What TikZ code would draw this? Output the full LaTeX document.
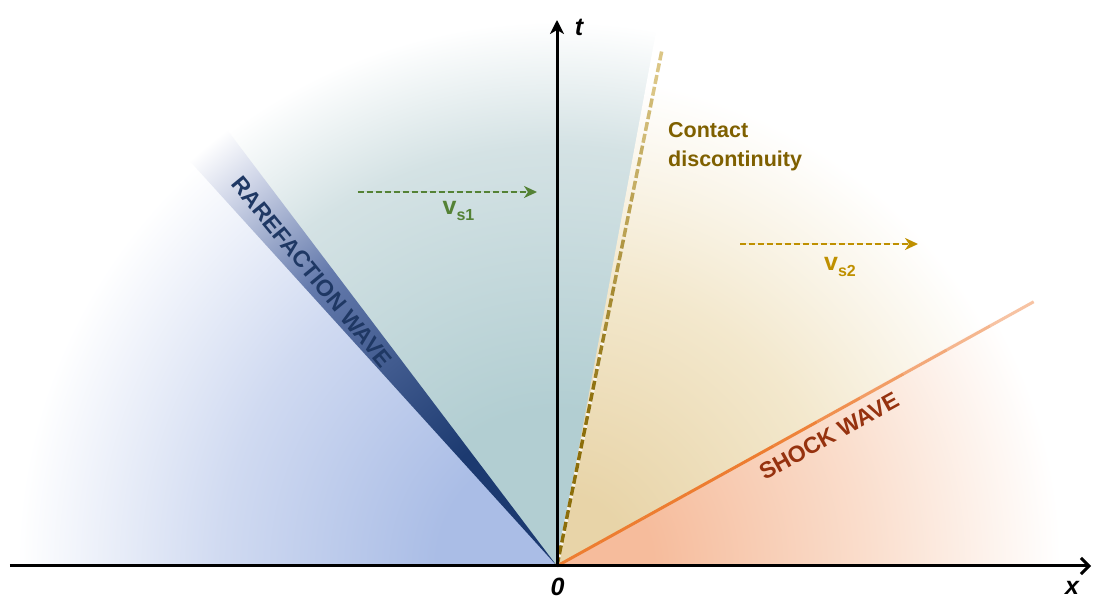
\documentclass[tikz,border=0pt]{standalone}
\usepackage{fontspec}
\setmainfont{Liberation Sans}
\usetikzlibrary{arrows.meta,calc}
\definecolor{cBlue}{RGB}{170,189,230}
\definecolor{cBlueMid}{RGB}{208,218,241}
\definecolor{cTeal}{RGB}{178,206,210}
\definecolor{cTealMid}{RGB}{212,226,228}
\definecolor{cBeige}{RGB}{232,212,168}
\definecolor{cBeigeMid}{RGB}{243,232,205}
\definecolor{cSalmon}{RGB}{246,188,156}
\definecolor{cSalmonMid}{RGB}{250,222,205}
\definecolor{cFan}{RGB}{28,58,112}
\definecolor{cFanMid}{RGB}{100,122,172}
\definecolor{cFanLight}{RGB}{208,214,232}
\definecolor{cContact}{RGB}{140,110,10}
\definecolor{cContactLight}{RGB}{245,228,175}
\definecolor{cShock}{RGB}{237,125,49}
\definecolor{cShockLight}{RGB}{250,215,195}
\definecolor{cRareText}{RGB}{31,56,100}
\definecolor{cShockText}{RGB}{150,50,15}
\definecolor{cContactText}{RGB}{127,96,0}
\definecolor{cGreen}{RGB}{84,130,53}
\definecolor{cGold}{RGB}{191,144,0}
\pgfdeclareradialshading{shBlue}{\pgfpoint{0bp}{0bp}}{color(0bp)=(cBlue); color(5bp)=(cBlue); color(14bp)=(cBlueMid); color(22.5bp)=(white); color(50bp)=(white)}
\pgfdeclareradialshading{shTeal}{\pgfpoint{0bp}{0bp}}{color(0bp)=(cTeal); color(6.5bp)=(cTeal); color(17.5bp)=(cTealMid); color(22.7bp)=(white); color(50bp)=(white)}
\pgfdeclareradialshading{shBeige}{\pgfpoint{0bp}{0bp}}{color(0bp)=(cBeige); color(3bp)=(cBeige); color(12bp)=(cBeigeMid); color(20.5bp)=(white); color(50bp)=(white)}
\pgfdeclareradialshading{shSalmon}{\pgfpoint{0bp}{0bp}}{color(0bp)=(cSalmon); color(4bp)=(cSalmon); color(13bp)=(cSalmonMid); color(21bp)=(white); color(50bp)=(white)}
\pgfdeclareradialshading{shFan}{\pgfpoint{0bp}{0bp}}{color(0bp)=(cFan); color(6bp)=(cFan); color(15.5bp)=(cFanMid); color(20.5bp)=(cFanLight); color(22.8bp)=(white); color(50bp)=(white)}
\begin{document}
\begin{tikzpicture}[x=1pt,y=1pt,
  lbl/.style={font=\bfseries\fontsize{23}{26}\selectfont, inner sep=0pt},
  vlbl/.style={font=\bfseries\fontsize{25}{28}\selectfont, inner sep=0pt},
  axlbl/.style={font=\bfseries\itshape\fontsize{25}{28}\selectfont, inner sep=0pt},
  axisline/.style={line width=3pt, black},
  vel/.style={dash pattern=on 6pt off 3pt, line width=2.2pt, -{Stealth[length=13pt,width=12pt,inset=4pt]}},
  contactline/.style={dash pattern=on 9pt off 3pt, line width=3.5pt, line cap=butt},
  shockline/.style={line width=3pt, line cap=butt},
]
\useasboundingbox (-557,-33) rectangle (537,566);
\coordinate (O) at (0,0);
% regions
\begin{scope}
\clip (O) -- (180:900) -- (155:900) -- (130:900) -- cycle;
\shade[shading=shBlue] (O) circle (600);
\end{scope}
\begin{scope}
\clip (O) -- (78.5:900) -- (103:900) -- (129:900) -- cycle;
\shade[shading=shTeal] (O) circle (600);
\end{scope}
\begin{scope}
\clip (O) -- (29:900) -- (54:900) -- (79.5:900) -- cycle;
\shade[shading=shBeige] (O) circle (600);
\end{scope}
\begin{scope}
\clip (O) -- (0:900) -- (29.3:900) -- cycle;
\shade[shading=shSalmon] (O) circle (600);
\end{scope}
\begin{scope}
\clip (O) -- (127.1:900) -- (132.2:900) -- cycle;
\shade[shading=shFan] (O) circle (600);
\end{scope}
% contact discontinuity
\coordinate (cEnd) at (78.5:528);
\coordinate (cMid) at (78.5:240);
\draw[white, line width=3.5pt, opacity=0.75] (O) -- (cMid);
\foreach \i in {0,...,10}{
  \pgfmathsetmacro{\p}{min(100,100-(48*\i+24-150)/378*80)}
  \draw[contactline, draw=cContact!\p!cContactLight] ($(O)!\i/11!(cEnd)$) -- ($(O)!{(\i+1)/11}!(cEnd)$);
}
% shock wave
\coordinate (sEnd) at (29:545);
\foreach \i in {0,...,10}{
  \pgfmathsetmacro{\p}{min(100,100-(49.5*\i+25-250)/295*85)}
  \draw[shockline, draw=cShock!\p!cShockLight] ($(O)!\i/11!(sEnd)$) -- ($(O)!{(\i+1)/11}!(sEnd)$);
}
% axes
\coordinate (xStart) at (-547,0);
\coordinate (xEnd) at (534,0);
\coordinate (tEnd) at (0,546);
\draw[axisline, -{Straight Barb[length=8pt,width=16pt]}] (xStart) -- (xEnd);
\draw[axisline, -{Stealth[length=14pt,width=14pt,inset=4pt]}] (O) -- (tEnd);
\node[axlbl] (tlab) at (22,539) {t};
\node[axlbl] (zlab) at (0.5,-21) {0};
\node[axlbl] (xlab) at (515,-22) {x};
% velocity arrows
\coordinate (a1s) at (-199,374);
\coordinate (a1e) at (-20,374);
\draw[vel, draw=cGreen, fill=cGreen] (a1s) -- (a1e);
\node[vlbl, text=cGreen] (vs1) at (-98.5,355) {v\raisebox{-6pt}{\fontsize{16}{16}\selectfont s1}};
\coordinate (a2s) at (183,322);
\coordinate (a2e) at (361,322);
\draw[vel, draw=cGold, fill=cGold] (a2s) -- (a2e);
\node[vlbl, text=cGold] (vs2) at (283,299) {v\raisebox{-6pt}{\fontsize{16}{16}\selectfont s2}};
% wave labels
\node[lbl, text=cRareText, rotate=-50.6] (rare) at (-245,294) {RAREFACTION WAVE};
\node[lbl, text=cShockText, rotate=29] (shock) at (272,130) {SHOCK WAVE};
\node[lbl, text=cContactText, align=left, anchor=base west, font=\bfseries\fontsize{21.5}{29}\selectfont] (contact) at (111,399) {Contact\\discontinuity};
\end{tikzpicture}
\end{document}
